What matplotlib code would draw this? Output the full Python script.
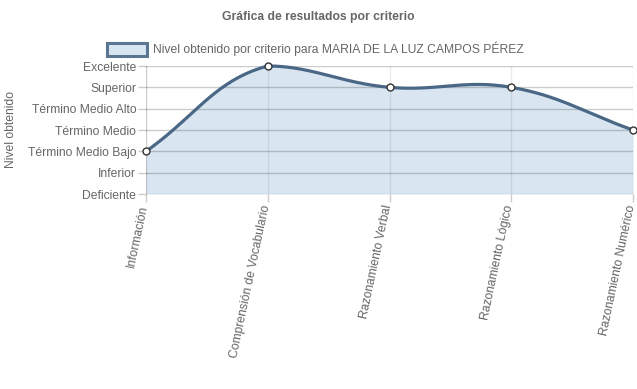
import numpy as np
import matplotlib
matplotlib.use("Agg")
import matplotlib.pyplot as plt
from matplotlib.patches import Rectangle

plt.rcParams.update({
    "font.family": ["Liberation Sans", "DejaVu Sans"],
    "font.size": 8.7,
})

# Data
niveles = ["Deficiente", "Inferior", "Término Medio Bajo", "Término Medio",
           "Término Medio Alto", "Superior", "Excelente"]
criterios = ["Información", "Comprensión de Vocabulario", "Razonamiento Verbal",
             "Razonamiento Lógico", "Razonamiento Numérico"]
valores = [2, 6, 5, 5, 3]
serie = "Nivel obtenido por criterio para MARIA DE LA LUZ CAMPOS PÉREZ"

LINE = "#4a6886"
FILL = "#d9e6f2"
TXT = "#666666"
GRID = (0, 0, 0, 0.2)
VGRID = (0, 0, 0, 0.08)
FS = 8.7

W, H = 637, 389
fig = plt.figure(figsize=(W / 100, H / 100), dpi=100)
ax = fig.add_axes([146 / W, 1 - 194 / H, (633 - 146) / W, (194 - 66) / H])

x = np.arange(len(criterios))
ax.set_xlim(0, len(criterios) - 1)
ax.set_ylim(0, len(niveles) - 1)


def spline_path(xs, ys, t=0.4, n=40):
    # bezier like Chart.js (tension 0.4), control points in pixel space,
    # capped to the chart area
    pts = ax.transData.transform(np.column_stack([xs, ys]))
    bb = ax.get_window_extent()
    m = len(pts)
    cp_prev, cp_next = [], []
    for i in range(m):
        p0 = pts[i - 1] if i > 0 else pts[i]
        p1 = pts[i]
        p2 = pts[i + 1] if i < m - 1 else pts[i]
        d01 = np.hypot(*(p1 - p0))
        d12 = np.hypot(*(p2 - p1))
        s = d01 + d12
        s01 = d01 / s if s else 0
        s12 = d12 / s if s else 0
        cp_prev.append(p1 - t * s01 * (p2 - p0))
        cp_next.append(p1 + t * s12 * (p2 - p0))
    lo = np.array([bb.x0, bb.y0])
    hi = np.array([bb.x1, bb.y1])
    cp_prev = [np.clip(c, lo, hi) for c in cp_prev]
    cp_next = [np.clip(c, lo, hi) for c in cp_next]
    out = [pts[0]]
    u = np.linspace(0, 1, n)[1:, None]
    for i in range(m - 1):
        a, b, c, d = pts[i], cp_next[i], cp_prev[i + 1], pts[i + 1]
        seg = ((1 - u) ** 3) * a + 3 * ((1 - u) ** 2) * u * b + 3 * (1 - u) * u ** 2 * c + u ** 3 * d
        out.extend(seg)
    out = np.array(out)
    return ax.transData.inverted().transform(out)


curve = spline_path(x, valores)
ax.fill_between(curve[:, 0], curve[:, 1], 0, color=FILL, linewidth=0, zorder=1)
ax.plot(curve[:, 0], curve[:, 1], color=LINE, linewidth=2.3, zorder=3,
        clip_on=False, solid_capstyle="round")
ax.plot(x, valores, linestyle="none", marker="o", markersize=5,
        markerfacecolor="white", markeredgecolor="#333333",
        markeredgewidth=1.0, zorder=4, clip_on=False)

# grid
for yv in range(len(niveles)):
    ax.axhline(yv, color=GRID, linewidth=1, zorder=2)
for xv in x:
    ax.axvline(xv, color=VGRID if xv > 0 else GRID, linewidth=1, zorder=2)
for s in ax.spines.values():
    s.set_visible(False)

ax.set_yticks(range(len(niveles)))
ax.set_yticklabels(niveles, color=TXT, fontsize=FS)
ax.set_xticks(x)
ax.set_xticklabels([])
ax.tick_params(axis="both", length=6, width=1, color=GRID, pad=1)

for xi, lab in zip(x, criterios):
    ax.annotate(lab, xy=(xi, 0), xytext=(-1, -8), textcoords="offset points",
                rotation=78, rotation_mode="anchor", ha="right", va="center",
                color=TXT, fontsize=FS, annotation_clip=False)

fig.text(11 / W, 1 - 130 / H, "Nivel obtenido", rotation=90, ha="center",
         va="center", color=TXT, fontsize=FS)
fig.text(318 / W, 1 - 17 / H, "Gráfica de resultados por criterio",
         ha="center", va="center", color=TXT, fontsize=FS, fontweight="bold")

fig.patches.append(Rectangle((107 / W, 1 - 56 / H), 40 / W, 13 / H,
                             transform=fig.transFigure, facecolor=FILL,
                             edgecolor="#5b7691", linewidth=2.2))
fig.text(153 / W, 1 - 49 / H, serie, ha="left", va="center", color=TXT,
         fontsize=FS)

fig.savefig("out.png", dpi=100)
